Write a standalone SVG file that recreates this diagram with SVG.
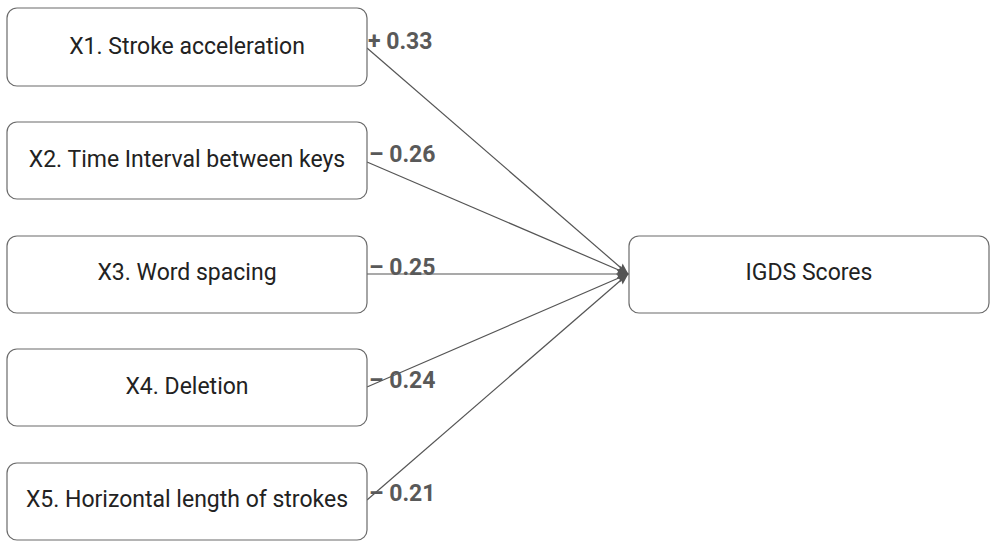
<svg xmlns="http://www.w3.org/2000/svg" width="1000" height="546" viewBox="0 0 1000 546">
<style>
.box{fill:#fff;stroke:#6b6b6b;stroke-width:1.2}
.t{font-family:Roboto,"Liberation Sans",sans-serif;font-size:23px;fill:#222;text-anchor:middle}
.w{font-family:Roboto,"Liberation Sans",sans-serif;font-size:23px;font-weight:bold;fill:#595959}
.c{stroke:#555;stroke-width:1.2;fill:none;marker-end:url(#ah)}
</style>
<defs>
<marker id="ah" viewBox="0 0 12 10" refX="11" refY="5" markerWidth="12" markerHeight="10" markerUnits="userSpaceOnUse" orient="auto" overflow="visible">
<path d="M0,0.5 L12,5 L0,9.5 L2,5 Z" fill="#555"/>
</marker>
</defs>
<rect width="1000" height="546" fill="#fff"/>
<g id="connectors">
<line class="c" x1="367" y1="48" x2="628" y2="274"/>
<line class="c" x1="367" y1="162" x2="628" y2="274"/>
<line class="c" x1="367" y1="274" x2="628" y2="274"/>
<line class="c" x1="367" y1="387" x2="628" y2="274"/>
<line class="c" x1="367" y1="500" x2="628" y2="274"/>
<text class="w" x="368" y="49">+ 0.33</text>
<text class="w" x="369" y="162">– 0.26</text>
<text class="w" x="369" y="275">– 0.25</text>
<text class="w" x="369" y="388">– 0.24</text>
<text class="w" x="369" y="501">– 0.21</text>
</g>
<g id="x1"><rect class="box" x="7" y="8" width="360" height="78" rx="10"/><text class="t" x="187" y="54">X1. Stroke acceleration</text></g>
<g id="x2"><rect class="box" x="7" y="122" width="360" height="77" rx="10"/><text class="t" x="187" y="167">X2. Time Interval between keys</text></g>
<g id="x3"><rect class="box" x="7" y="236" width="360" height="77" rx="10"/><text class="t" x="187" y="280">X3. Word spacing</text></g>
<g id="x4"><rect class="box" x="7" y="349" width="360" height="77" rx="10"/><text class="t" x="187" y="394">X4. Deletion</text></g>
<g id="x5"><rect class="box" x="7" y="463" width="360" height="77" rx="10"/><text class="t" x="187" y="507">X5. Horizontal length of strokes</text></g>
<g id="igds"><rect class="box" x="629" y="236" width="360" height="77" rx="10"/><text class="t" x="809" y="280">IGDS Scores</text></g>
</svg>
